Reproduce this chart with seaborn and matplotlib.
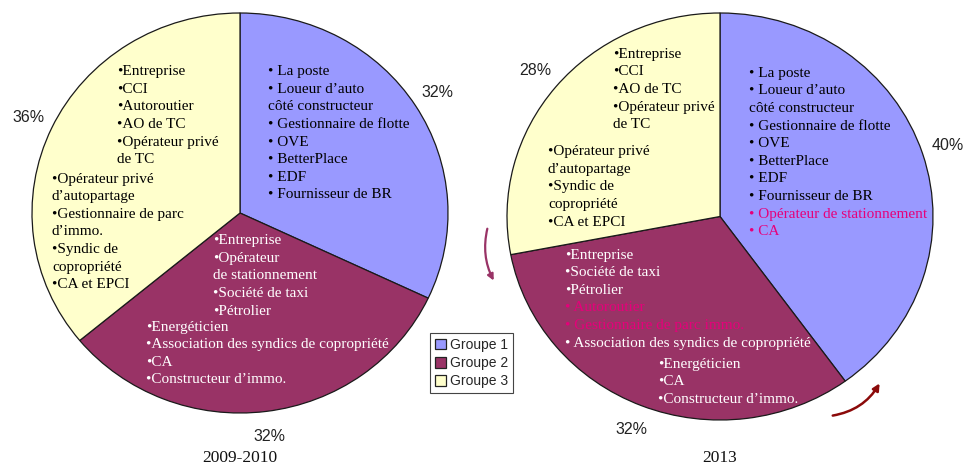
import matplotlib
matplotlib.use('Agg')
import matplotlib.pyplot as plt
from matplotlib.patches import Patch
import seaborn as sns

sns.set_theme(style='white')
plt.rcParams['font.family'] = ['Liberation Sans', 'DejaVu Sans']

# %% Data
groups = ['Groupe 1', 'Groupe 2', 'Groupe 3']
colors = ['#9999FF', '#993366', '#FFFFCC']
share_2009 = [32, 32, 36]
share_2013 = [40, 32, 28]
titles = ['2009-2010', '2013']

# actors per group, 2009-2010
g1_2009 = ['• La poste', '• Loueur d’auto', 'côté constructeur', '• Gestionnaire de flotte',
           '• OVE', '• BetterPlace', '• EDF', '• Fournisseur de BR']
g2_2009_a = ['•Entreprise', '•Opérateur', 'de stationnement', '•Société de taxi', '•Pétrolier']
g2_2009_b = ['•Energéticien', '•Association des syndics de copropriété', '•CA', '•Constructeur d’immo.']
g3_2009_a = ['•Entreprise', '•CCI', '•Autoroutier', '•AO de TC', '•Opérateur privé', 'de TC']
g3_2009_b = ['•Opérateur privé', 'd’autopartage', '•Gestionnaire de parc', 'd’immo.',
             '•Syndic de', 'copropriété', '•CA et EPCI']

# actors per group, 2013
g1_2013 = ['• La poste', '• Loueur d’auto', 'côté constructeur', '• Gestionnaire de flotte',
           '• OVE', '• BetterPlace', '• EDF', '• Fournisseur de BR',
           '• Opérateur de stationnement', '• CA']
g2_2013_a = ['•Entreprise', '•Société de taxi', '•Pétrolier', '• Autoroutier',
             '• Gestionnaire de parc immo.', '• Association des syndics de copropriété']
g2_2013_b = ['•Energéticien', '•CA', '•Constructeur d’immo.']
g3_2013_a = ['•Entreprise', '•CCI', '•AO de TC', '•Opérateur privé', 'de TC']
g3_2013_b = ['•Opérateur privé', 'd’autopartage', '•Syndic de', 'copropriété', '•CA et EPCI']
moved_2013 = ['• Opérateur de stationnement', '• CA', '• Autoroutier', '• Gestionnaire de parc immo.']

W, H = 963, 466
fig = plt.figure(figsize=(W / 100, H / 100), dpi=100)
PAD = 1.03


def draw_pie(values, cx, cy, rx, ry):
    ax = fig.add_axes([(cx - rx * PAD) / W, (H - cy - ry * PAD) / H,
                       2 * rx * PAD / W, 2 * ry * PAD / H])
    ax.pie(values, colors=colors, startangle=90, counterclock=False,
           wedgeprops=dict(edgecolor='#1a1a1a', linewidth=0.9),
           autopct='%.0f%%', pctdistance=1.125,
           textprops=dict(fontsize=11.5, color='#222222', family=['Liberation Sans']))
    ax.set_xlim(-PAD, PAD)
    ax.set_ylim(-PAD, PAD)
    ax.set_aspect('auto')
    ax.axis('off')
    return ax


draw_pie(share_2009, 240, 213, 208, 200)
draw_pie(share_2013, 720, 216.5, 213, 203.5)

# overlay in pixel coordinates for the text blocks
ov = fig.add_axes([0, 0, 1, 1], zorder=5)
ov.set_xlim(0, W)
ov.set_ylim(H, 0)
ov.axis('off')
ov.patch.set_alpha(0)

STEP = 17.6
PINK = '#E6007A'


def block(x, y0, lines, color):
    for i, line in enumerate(lines):
        c = PINK if line in moved_2013 and color != 'black_only' else color
        ov.text(x, y0 + i * STEP, line, ha='left', va='center', fontsize=11,
                color=c, family=['Liberation Serif', 'DejaVu Serif'])


# 2009-2010
block(268, 71.7, g1_2009, 'black')
block(213, 240.7, g2_2009_a, 'white')
block(146, 327, g2_2009_b, 'white')
block(117, 71.7, g3_2009_a, 'black')
block(52, 179, g3_2009_b, 'black')

# 2013
block(749, 73.3, g1_2013, 'black')
block(565, 255, g2_2013_a, 'white')
block(658, 364.3, g2_2013_b, 'white')
block(613, 54.3, g3_2013_a, 'black')
block(548, 151.7, g3_2013_b, 'black')

for t, x in zip(titles, [240, 720]):
    ov.text(x, 458, t, ha='center', va='center', fontsize=12.5, color='#111111',
            family=['Liberation Serif', 'DejaVu Serif'])

# arrows showing the moves between groups
ov.annotate('', xy=(495, 283), xytext=(488, 226),
            arrowprops=dict(arrowstyle='-|>', color='#993366', lw=1.6,
                            connectionstyle='arc3,rad=0.2', mutation_scale=9))
ov.annotate('', xy=(881, 381), xytext=(830, 416),
            arrowprops=dict(arrowstyle='-|>', color='#8B0A0A', lw=1.8,
                            connectionstyle='arc3,rad=0.25', mutation_scale=10))

handles = [Patch(facecolor=c, edgecolor='#222222', linewidth=0.9) for c in colors]
leg = fig.legend(handles, groups, loc='upper left', bbox_to_anchor=(430 / W, 1 - 333 / H),
                 bbox_transform=fig.transFigure, borderaxespad=0, fancybox=False,
                 framealpha=1, edgecolor='#444444', fontsize=10, handlelength=0.8,
                 handleheight=0.8, handletextpad=0.3, labelspacing=0.3,
                 borderpad=0.35, prop=dict(family='Liberation Sans', size=10))
leg.get_frame().set_linewidth(0.8)
leg.set_zorder(10)

fig.savefig('out.png', dpi=100)
